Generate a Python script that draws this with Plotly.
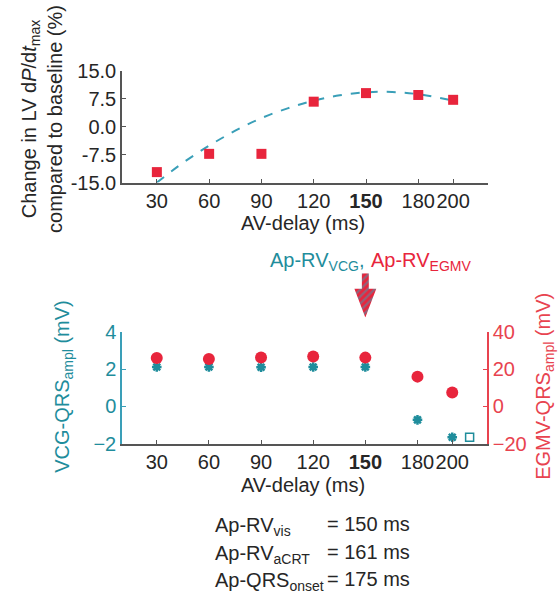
import plotly.graph_objects as go

W, H = 559, 606

# ---------------- data ----------------
av_delay = [30, 60, 90, 120, 150, 180, 200]
x_tick_text = ["30", "60", "90", "120", "<b>150</b>", "180", "200"]

dpdt_change = [-12.2, -7.3, -7.3, 6.7, 9.0, 8.5, 7.2]
fit_x = [30, 45, 60, 75, 90, 105, 120, 135, 150, 165, 180, 200]
fit_y = [-15.0, -9.7, -5.1, -1.1, 2.3, 4.9, 7.0, 8.4, 9.2, 9.3, 8.7, 7.0]

vcg_qrs = [2.12, 2.12, 2.1, 2.12, 2.12, -0.72, -1.65]
egmv_qrs = [26.0, 25.5, 26.3, 26.8, 26.2, 16.0, 7.5]
vcg_extra_x = [210]
vcg_extra_y = [-1.65]

top_y_ticks = [-15.0, -7.5, 0.0, 7.5, 15.0]
top_y_tick_text = ["-15.0", "-7.5", "0.0", "7.5", "15.0"]
left_ticks = [-2, 0, 2, 4]
right_ticks = [-20, 0, 20, 40]

arrow_x = [148, 152, 152, 156.3, 150, 143.7, 148, 148]
arrow_y = [1, 1, 0.65, 0.65, 0, 0.65, 0.65, 1]

# ---------------- style ----------------
TEAL = "#1f8d9c"
TEAL_LINE = "#3a9fb8"
RED = "#e8253c"
RED_AX = "#e8434f"
GRAY = "#555555"
TXT = "#262626"
FONT = "Liberation Sans, Arial, sans-serif"
FS = 20

def px(x):
    return x / W

def py(y):
    return 1 - y / H

fig = go.Figure()

# top chart
fig.add_trace(go.Scatter(x=fit_x, y=fit_y, mode="lines", line=dict(color=TEAL_LINE, width=2, dash="dash", shape="spline"),
                         xaxis="x", yaxis="y", showlegend=False, hoverinfo="skip"))
fig.add_trace(go.Scatter(x=av_delay, y=dpdt_change, mode="markers",
                         marker=dict(symbol="square", size=10, color=RED),
                         xaxis="x", yaxis="y", showlegend=False, cliponaxis=False))

# bottom chart
fig.add_trace(go.Scatter(x=av_delay, y=egmv_qrs, mode="markers",
                         marker=dict(symbol="circle", size=12, color=RED),
                         xaxis="x2", yaxis="y3", showlegend=False, cliponaxis=False))
fig.add_trace(go.Scatter(x=av_delay, y=vcg_qrs, mode="markers",
                         marker=dict(symbol="asterisk-open", size=8, color=TEAL, line=dict(color=TEAL, width=2.5)),
                         xaxis="x2", yaxis="y2", showlegend=False, cliponaxis=False))
fig.add_trace(go.Scatter(x=vcg_extra_x, y=vcg_extra_y, mode="markers",
                         marker=dict(symbol="square-open", size=8, color=TEAL, line=dict(color=TEAL, width=1.5)),
                         xaxis="x2", yaxis="y2", showlegend=False, cliponaxis=False))

# arrow
fig.add_trace(go.Scatter(x=arrow_x, y=arrow_y, mode="lines", fill="toself",
                         line=dict(width=0, color=RED),
                         fillpattern=dict(shape="/", bgcolor=RED, fgcolor=TEAL_LINE, size=5, solidity=0.45),
                         xaxis="x3", yaxis="y4", showlegend=False, hoverinfo="skip"))

x_common = dict(range=[10, 220], tickmode="array", tickvals=av_delay, ticktext=x_tick_text,
                tickangle=0,
                showline=True, linecolor=GRAY, linewidth=1.5, ticks="inside", ticklen=4,
                tickcolor=GRAY, showgrid=False, zeroline=False,
                tickfont=dict(family=FONT, size=FS, color=TXT))

fig.update_layout(
    width=W, height=H,
    margin=dict(l=0, r=0, t=0, b=0),
    paper_bgcolor="white", plot_bgcolor="white",
    font=dict(family=FONT, size=FS, color=TXT),
    xaxis=dict(domain=[px(122), px(488)], anchor="y", **x_common),
    yaxis=dict(domain=[py(178), py(62)], anchor="x", range=[-15, 15], tickmode="array",
               tickvals=top_y_ticks, ticktext=top_y_tick_text, showline=True, linecolor=GRAY,
               linewidth=1.5, ticks="inside", ticklen=4, tickcolor=GRAY, showgrid=False,
               zeroline=False, tickfont=dict(family=FONT, size=FS, color=TXT)),
    xaxis2=dict(domain=[px(122), px(487)], anchor="y2", **x_common),
    yaxis2=dict(domain=[py(449), py(333)], anchor="x2", range=[-2, 4], tickmode="array",
                tickvals=left_ticks, showline=True, linecolor=TEAL_LINE, linewidth=1.5,
                ticks="inside", ticklen=4, tickcolor=TEAL_LINE, showgrid=False, zeroline=False,
                tickfont=dict(family=FONT, size=FS, color=TEAL)),
    yaxis3=dict(overlaying="y2", side="right", anchor="x2", range=[-20, 40], tickmode="array",
                tickvals=right_ticks, showline=True, linecolor=RED_AX, linewidth=1.5,
                ticks="inside", ticklen=4, tickcolor=RED_AX, showgrid=False, zeroline=False,
                tickfont=dict(family=FONT, size=FS, color=RED_AX)),
    xaxis3=dict(domain=[px(122), px(487)], anchor="y4", range=[10, 220], visible=False),
    yaxis4=dict(domain=[py(318), py(272)], anchor="x3", range=[0, 1], visible=False),
)

def A(x, y, text, color=TXT, angle=0, xanchor="center", size=FS):
    return dict(x=px(x), y=py(y), xref="paper", yref="paper", text=text, textangle=angle,
                xanchor=xanchor, yanchor="middle", showarrow=False, align="center",
                font=dict(family=FONT, size=size, color=color))

ann = [
    A(42, 112, "Change in LV d<i>P</i>/d<i>t</i><sub>max</sub><br>compared to baseline (%)", angle=-90),
    A(303, 220, "AV-delay (ms)"),
    A(64, 390, "VCG-QRS<sub>ampl</sub> (mV)", color=TEAL, angle=-90),
    A(545, 390, "EGMV-QRS<sub>ampl</sub> (mV)", color=RED_AX, angle=-90),
    A(303, 492, "AV-delay (ms)"),
    A(366, 260, "Ap-RV<sub>VCG</sub>,", color=TEAL, xanchor="right"),
    A(369, 260, "Ap-RV<sub>EGMV</sub>", color=RED, xanchor="left"),
]
labels_left = ["Ap-RV<sub>vis</sub>", "Ap-RV<sub>aCRT</sub>", "Ap-QRS<sub>onset</sub>"]
labels_right = ["= 150 ms", "= 161 ms", "= 175 ms"]
rows_y = [535, 564, 592]
for lt, rt, yy in zip(labels_left, labels_right, rows_y):
    ann.append(A(213, yy, lt, xanchor="left"))
    ann.append(A(325, yy - 3, rt, xanchor="left"))

fig.update_layout(annotations=ann)
fig.write_html("out.html", config={"displayModeBar": False},
               post_script="document.body.style.margin='0';")
